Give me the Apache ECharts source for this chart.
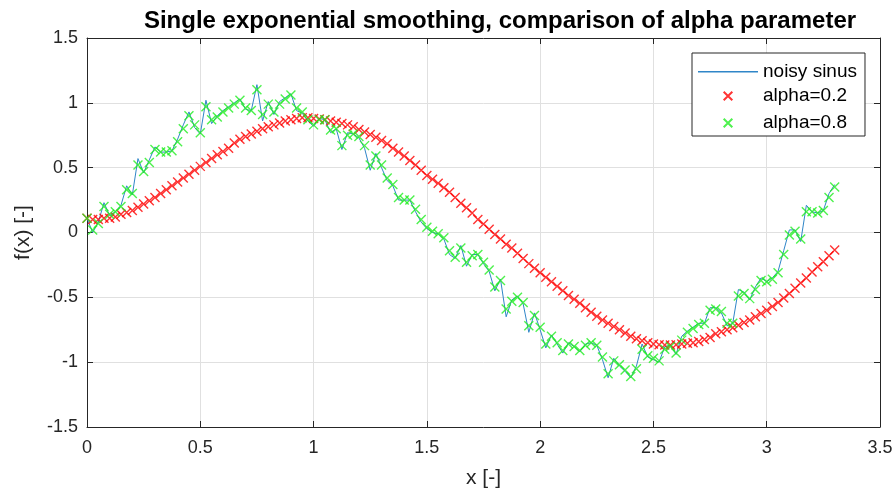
<!DOCTYPE html>
<html>
<head>
<meta charset="utf-8">
<script src="https://cdn.jsdelivr.net/npm/echarts@6/dist/echarts.min.js"></script>
<style>html,body{margin:0;padding:0;background:#fff;}#c{width:896px;height:492px;}</style>
</head>
<body>
<div id="c"></div>
<script>
// sampling grid of the x axis
const xStart = 0;
const xStep = 0.025;

const noisySinus = [
  0.11, 0.00, 0.08, 0.23, 0.13, 0.16, 0.21, 0.36, 0.29, 0.57,
  0.46, 0.56, 0.66, 0.62, 0.62, 0.63, 0.72, 0.83, 0.93, 0.81,
  0.76, 1.02, 0.84, 0.90, 0.94, 0.97, 1.00, 1.03, 0.95, 0.94,
  1.14, 0.86, 1.01, 0.91, 1.01, 1.04, 1.07, 0.94, 0.92, 0.86,
  0.82, 0.88, 0.87, 0.77, 0.80, 0.64, 0.77, 0.76, 0.73, 0.65,
  0.48, 0.61, 0.50, 0.40, 0.36, 0.25, 0.25, 0.25, 0.16, 0.08,
  0.03, 0.00, -0.01, -0.05, -0.17, -0.20, -0.10, -0.26, -0.17, -0.17,
  -0.24, -0.30, -0.45, -0.36, -0.65, -0.52, -0.49, -0.55, -0.77, -0.62,
  -0.75, -0.89, -0.79, -0.86, -0.93, -0.85, -0.88, -0.92, -0.86, -0.85,
  -0.87, -0.98, -1.12, -0.97, -1.03, -1.07, -1.12, -1.03, -0.86, -0.96,
  -0.98, -1.00, -0.88, -0.87, -0.94, -0.80, -0.76, -0.73, -0.70, -0.70,
  -0.58, -0.58, -0.62, -0.72, -0.70, -0.44, -0.46, -0.52, -0.42, -0.35,
  -0.38, -0.35, -0.30, -0.14, 0.02, 0.02, -0.07, 0.21, 0.16, 0.15,
  0.17, 0.30, 0.37
];

const alpha02 = [
  0.11, 0.10, 0.10, 0.11, 0.11, 0.12, 0.14, 0.155, 0.17, 0.195,
  0.22, 0.245, 0.27, 0.30, 0.33, 0.36, 0.39, 0.42, 0.45, 0.48,
  0.51, 0.54, 0.57, 0.60, 0.625, 0.65, 0.69, 0.72, 0.74, 0.76,
  0.78, 0.80, 0.815, 0.83, 0.845, 0.86, 0.87, 0.88, 0.885, 0.885,
  0.88, 0.875, 0.87, 0.86, 0.85, 0.84, 0.83, 0.815, 0.795, 0.775,
  0.755, 0.735, 0.71, 0.685, 0.65, 0.62, 0.59, 0.555, 0.52, 0.48,
  0.44, 0.41, 0.38, 0.345, 0.31, 0.27, 0.225, 0.19, 0.15, 0.10,
  0.065, 0.025, -0.015, -0.05, -0.09, -0.12, -0.16, -0.20, -0.24, -0.275,
  -0.31, -0.345, -0.38, -0.415, -0.45, -0.485, -0.515, -0.545, -0.58, -0.615,
  -0.645, -0.675, -0.70, -0.725, -0.75, -0.775, -0.80, -0.82, -0.835, -0.85,
  -0.86, -0.865, -0.867, -0.867, -0.865, -0.86, -0.855, -0.85, -0.84, -0.825,
  -0.81, -0.78, -0.765, -0.75, -0.735, -0.715, -0.695, -0.675, -0.65, -0.625,
  -0.60, -0.57, -0.54, -0.505, -0.47, -0.43, -0.39, -0.35, -0.305, -0.265,
  -0.225, -0.18, -0.135
];

const alpha08 = [
  0.11, 0.02, 0.07, 0.20, 0.14, 0.16, 0.20, 0.33, 0.30, 0.52,
  0.47, 0.54, 0.64, 0.62, 0.62, 0.63, 0.70, 0.80, 0.90, 0.83,
  0.77, 0.97, 0.87, 0.89, 0.93, 0.96, 0.99, 1.02, 0.96, 0.94,
  1.10, 0.91, 0.99, 0.93, 0.99, 1.03, 1.06, 0.96, 0.93, 0.87,
  0.83, 0.87, 0.87, 0.79, 0.80, 0.67, 0.75, 0.76, 0.74, 0.67,
  0.52, 0.59, 0.52, 0.42, 0.37, 0.27, 0.25, 0.25, 0.18, 0.10,
  0.04, 0.01, -0.01, -0.04, -0.14, -0.19, -0.12, -0.23, -0.18, -0.17,
  -0.23, -0.29, -0.42, -0.37, -0.59, -0.53, -0.50, -0.54, -0.72, -0.64,
  -0.73, -0.86, -0.80, -0.85, -0.91, -0.86, -0.88, -0.91, -0.87, -0.85,
  -0.87, -0.96, -1.09, -0.99, -1.02, -1.06, -1.11, -1.05, -0.90, -0.95,
  -0.97, -0.99, -0.90, -0.88, -0.93, -0.83, -0.77, -0.74, -0.71, -0.70,
  -0.60, -0.59, -0.61, -0.70, -0.70, -0.49, -0.47, -0.51, -0.44, -0.37,
  -0.38, -0.36, -0.31, -0.17, -0.02, 0.01, -0.05, 0.16, 0.16, 0.15,
  0.17, 0.27, 0.35
];

const xTicks = { min: 0, max: 3.5, interval: 0.5 };
const yTicks = { min: -1.5, max: 1.5, interval: 0.5 };

const titleText = 'Single exponential smoothing, comparison of alpha parameter';
const seriesNames = ['noisy sinus', 'alpha=0.2', 'alpha=0.8'];

function pairs(arr) {
  return arr.map((v, i) => [+(xStart + i * xStep).toFixed(4), v]);
}

const axisColor = '#262626';
const gridColor = '#e0e0e0';
const blueColor = '#2f86c8';
const font = 'Arial, "Liberation Sans", Helvetica, sans-serif';
const xMark = 'path://M0,0L10,10M0,10L10,0';
const legendX = 'path://M-6,-6M0,0L10,10M0,10L10,0M16,16';
const legendLine = 'path://M0,-9M0,0L60,0L60,1.6L0,1.6ZM0,10';

function boxAxis(extra) {
  return Object.assign({
    axisLine: { show: true, onZero: false, lineStyle: { color: axisColor, width: 1 } },
    axisTick: { show: true, inside: true, length: 6, lineStyle: { color: axisColor } },
    axisLabel: { show: false },
    splitLine: { show: false }
  }, extra);
}

const chart = echarts.init(document.getElementById('c'), null, { renderer: 'canvas' });
chart.setOption({
  animation: false,
  backgroundColor: '#ffffff',
  color: [blueColor, '#ff0000', '#22ee22'],
  textStyle: { fontFamily: font },
  title: {
    text: titleText,
    left: 495,
    top: 4,
    textAlign: 'center',
    textStyle: { fontFamily: font, fontSize: 24, fontWeight: 'bold', color: '#000' }
  },
  grid: { left: 87, right: 16, top: 38, bottom: 65, containLabel: false, outerBoundsMode: 'none' },
  legend: {
    show: true,
    orient: 'vertical',
    left: 692,
    top: 53,
    padding: [9, 8, 1, 6],
    itemGap: 3,
    itemWidth: 60,
    itemHeight: 19,
    backgroundColor: '#ffffff',
    borderColor: axisColor,
    borderWidth: 1,
    textStyle: { fontFamily: font, fontSize: 19, lineHeight: 19, color: '#000' },
    data: [
      { name: seriesNames[0], icon: legendLine,
        itemStyle: { color: blueColor, borderColor: blueColor, borderWidth: 0, opacity: 1 } },
      { name: seriesNames[1], icon: legendX },
      { name: seriesNames[2], icon: legendX }
    ]
  },
  xAxis: [
    boxAxis({
      type: 'value', min: xTicks.min, max: xTicks.max, interval: xTicks.interval,
      position: 'bottom',
      axisLabel: { show: true, color: axisColor, fontSize: 18, margin: 12, fontFamily: font },
      splitLine: { show: true, lineStyle: { color: gridColor, width: 1 } },
      name: 'x [-]', nameLocation: 'middle', nameGap: 41,
      nameTextStyle: { color: axisColor, fontSize: 21, fontFamily: font }
    }),
    boxAxis({
      type: 'value', min: xTicks.min, max: xTicks.max, interval: xTicks.interval,
      position: 'top'
    })
  ],
  yAxis: [
    boxAxis({
      type: 'value', min: yTicks.min, max: yTicks.max, interval: yTicks.interval,
      position: 'left',
      axisLabel: { show: true, color: axisColor, fontSize: 18, margin: 9, fontFamily: font },
      splitLine: { show: true, lineStyle: { color: gridColor, width: 1 } },
      name: 'f(x) [-]', nameLocation: 'middle', nameGap: 53, nameRotate: 90,
      nameTextStyle: { color: axisColor, fontSize: 21, fontFamily: font }
    }),
    boxAxis({
      type: 'value', min: yTicks.min, max: yTicks.max, interval: yTicks.interval,
      position: 'right'
    })
  ],
  series: [
    {
      name: seriesNames[0], type: 'line', data: pairs(noisySinus),
      color: blueColor,
      showSymbol: false, symbol: 'none',
      lineStyle: { color: blueColor, width: 1 },
      itemStyle: { color: blueColor },
      z: 2
    },
    {
      name: seriesNames[1], type: 'scatter', data: pairs(alpha02),
      symbol: xMark, symbolSize: 9,
      itemStyle: { color: 'none', borderColor: '#ff0000', borderWidth: 1.4 },
      z: 3
    },
    {
      name: seriesNames[2], type: 'scatter', data: pairs(alpha08),
      symbol: xMark, symbolSize: 9,
      itemStyle: { color: 'none', borderColor: '#22ee22', borderWidth: 1.4 },
      z: 4
    }
  ]
});
</script>
</body>
</html>
